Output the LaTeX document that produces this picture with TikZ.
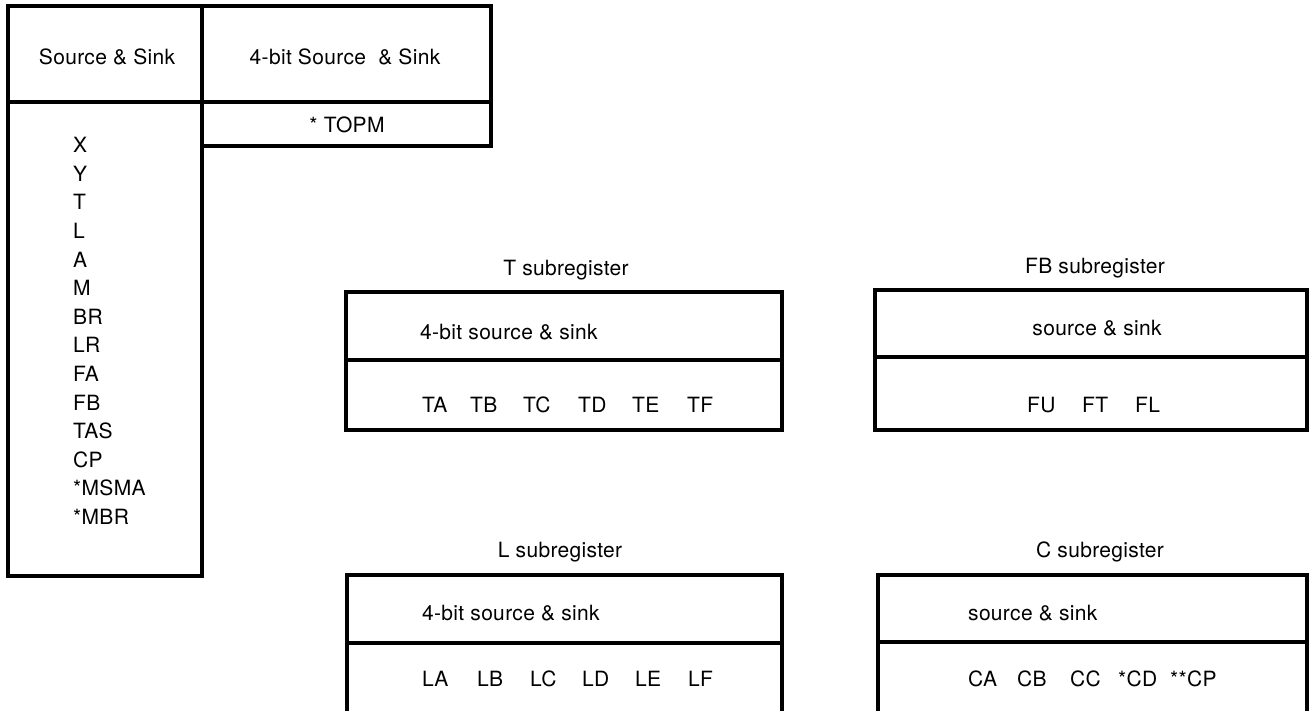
\documentclass[tikz,border=0pt]{standalone}
\usepackage{fontspec}
\setmainfont{TeX Gyre Heros}[LetterSpace=1.5]
\begin{document}
\begin{tikzpicture}[x=1pt,y=-1pt,
  cell/.style={draw=black,line width=3.5pt,rectangle,inner sep=0pt,outer sep=0pt},
  lbl/.style={inner sep=0pt,font=\fontsize{21pt}{25pt}\selectfont},
  lw/.style={lbl,anchor=west}]
\clip (0,0) rectangle (1311,710);
\fill[white] (0,0) rectangle (1311,710);
% top-left table
\node[cell,minimum width=194pt,minimum height=96pt] (hdrL) at (105,54) {};
\node[cell,minimum width=289pt,minimum height=96pt] (hdrR) at (346.5,54) {};
\node[cell,minimum width=289pt,minimum height=44pt] (topm) at (346.5,124) {};
\node[cell,minimum width=194pt,minimum height=474pt] (colL) at (105,339) {};
\node[lbl] (tHL) at (107,57) {Source \& Sink};
\node[lbl] (tHR) at (345,57) {4-bit Source\ \ \& Sink};
\node[lbl] (tTOPM) at (347,125) {* TOPM};
\foreach \t [count=\i from 0] in {X,Y,T,L,A,M,BR,LR,FA,FB,TAS,CP,*MSMA,*MBR}{
  \node[lw] (col\i) at (73,{145+28.6*\i}) {\t};
}
% T subregister
\node[lbl] (Ttitle) at (566,270) {T subregister};
\node[cell,minimum width=436pt,minimum height=68pt] (tTop) at (564,326) {};
\node[cell,minimum width=436pt,minimum height=70pt] (tBot) at (564,395) {};
\node[lw] (tText) at (420,332) {4-bit source \& sink};
\node[lw] (TA) at (422,405) {TA};
\node[lw] (TB) at (470,405) {TB};
\node[lw] (TC) at (523,405) {TC};
\node[lw] (TD) at (578,405) {TD};
\node[lw] (TE) at (632,405) {TE};
\node[lw] (TF) at (687,405) {TF};
% FB subregister
\node[lbl] (FBtitle) at (1095,268) {FB subregister};
\node[cell,minimum width=432pt,minimum height=67pt] (fTop) at (1091,323.5) {};
\node[cell,minimum width=432pt,minimum height=73pt] (fBot) at (1091,393.5) {};
\node[lbl] (fText) at (1097,328) {source \& sink};
\node[lw] (FU) at (1027,405) {FU};
\node[lw] (FT) at (1082,405) {FT};
\node[lw] (FL) at (1135,405) {FL};
% L subregister
\node[lbl] (Ltitle) at (560,552) {L subregister};
\node[cell,minimum width=435pt,minimum height=68pt] (lTop) at (564.5,609) {};
\node[cell,minimum width=435pt,minimum height=140pt] (lBot) at (564.5,713) {};
\node[lw] (lText) at (422,613) {4-bit source \& sink};
\node[lw] (LA) at (422,679) {LA};
\node[lw] (LB) at (477,679) {LB};
\node[lw] (LC) at (530,679) {LC};
\node[lw] (LD) at (582,679) {LD};
\node[lw] (LE) at (635,679) {LE};
\node[lw] (LF) at (688,679) {LF};
% C subregister
\node[lbl] (Ctitle) at (1100,552) {C subregister};
\node[cell,minimum width=429pt,minimum height=67pt] (cTop) at (1092.5,608.5) {};
\node[cell,minimum width=429pt,minimum height=140pt] (cBot) at (1092.5,712) {};
\node[lw] (cText) at (968,613) {source \& sink};
\node[lw] (CA) at (968,679) {CA};
\node[lw] (CB) at (1017,679) {CB};
\node[lw] (CC) at (1070,679) {CC};
\node[lw] (CD) at (1118,679) {*CD};
\node[lw] (CP2) at (1170,679) {**CP};
\end{tikzpicture}
\end{document}
